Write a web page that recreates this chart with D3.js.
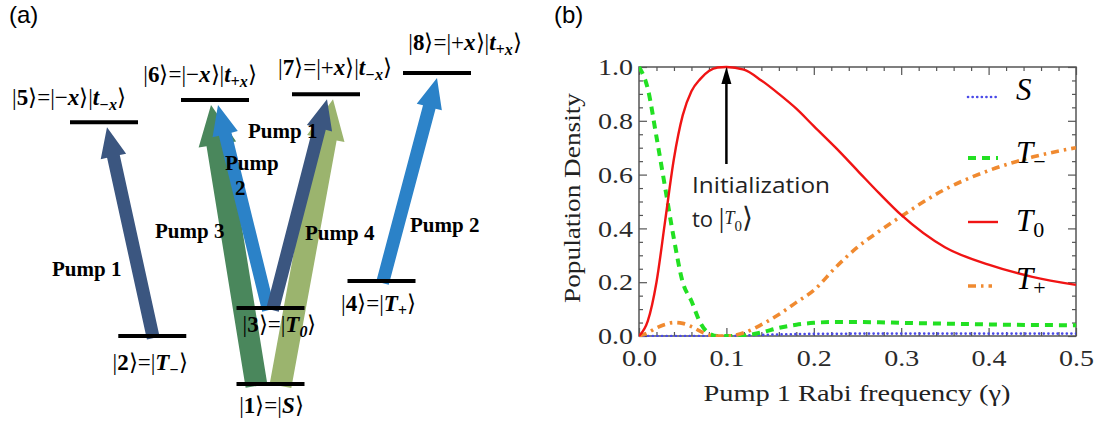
<!DOCTYPE html>
<html lang="en">
<head>
<meta charset="UTF-8" />
<title>Pump scheme and population density</title>
<script src="https://d3js.org/d3.v7.min.js"></script>
<style>
  body { margin: 0; background: #fff; }
  .serif { font-family: "Liberation Serif", "Times New Roman", serif; }
  .sans { font-family: "Open Sans", "Liberation Sans", sans-serif; }
  .level { stroke: #000; stroke-width: 4; }
  .frame { fill: none; stroke: #555; stroke-width: 1.5; }
  .tick line { stroke: #555; stroke-width: 1.2; }
  .tick text { fill: #2a2a2a; }
</style>
</head>
<body>
<div id="chart"></div>
<script>
// ---- panel (a): energy levels ----
// slot = horizontal column, energy = relative height
const levelIds    = ["1", "2", "3", "4", "5", "6", "7", "8"];
const levelSlots  = [3, 0.87, 3, 5, 0, 2, 4, 6];
const levelEnergy = [0, 0.154, 0.244, 0.331, 0.842, 0.913, 0.932, 1.0];

// right-hand side of each ket label: [text, kind]
const ketRhs = {
  "1": [["|", ""], ["S", "bi"], ["⟩", ""]],
  "2": [["|", ""], ["T", "bi"], ["−", "sub"], ["⟩", ""]],
  "3": [["|", ""], ["T", "bi"], ["0", "sub"], ["⟩", ""]],
  "4": [["|", ""], ["T", "bi"], ["+", "sub"], ["⟩", ""]],
  "5": [["|−", ""], ["x", "bi"], ["⟩|", ""], ["t", "bi"], ["−x", "sub"], ["⟩", ""]],
  "6": [["|−", ""], ["x", "bi"], ["⟩|", ""], ["t", "bi"], ["+x", "sub"], ["⟩", ""]],
  "7": [["|+", ""], ["x", "bi"], ["⟩|", ""], ["t", "bi"], ["−x", "sub"], ["⟩", ""]],
  "8": [["|+", ""], ["x", "bi"], ["⟩|", ""], ["t", "bi"], ["+x", "sub"], ["⟩", ""]]
};

// transitions: which pump drives which pair of levels
const pumpFrom = ["2", "1", "3", "3", "1", "4"];
const pumpTo   = ["5", "6", "6", "7", "7", "8"];
const pumpNum  = [1, 3, 2, 1, 4, 2];

// ---- panel (b): population density vs pump 1 Rabi frequency ----
const rabi  = [0, 0.01, 0.02, 0.03, 0.04, 0.05, 0.06, 0.07, 0.08, 0.09, 0.1,
               0.12, 0.14, 0.16, 0.18, 0.2, 0.225, 0.25, 0.275, 0.3, 0.35, 0.4, 0.45, 0.5];
const popS  = [0, 0, 0, 0, 0, 0, 0, 0, 0, 0, 0,
               0.002, 0.004, 0.006, 0.007, 0.008, 0.008, 0.009, 0.009, 0.009, 0.009, 0.009, 0.009, 0.009];
const popTm = [1.0, 0.92, 0.74, 0.55, 0.36, 0.2, 0.13, 0.05, 0.01, 0, 0,
               0.002, 0.013, 0.03, 0.042, 0.049, 0.052, 0.052, 0.051, 0.049, 0.046, 0.043, 0.041, 0.04];
const popT0 = [0, 0.055, 0.2, 0.43, 0.66, 0.82, 0.91, 0.955, 0.985, 0.998, 1.0,
               0.99, 0.95, 0.9, 0.845, 0.78, 0.7, 0.615, 0.53, 0.45, 0.33, 0.265, 0.22, 0.19];
const popTp = [0, 0.012, 0.03, 0.043, 0.05, 0.047, 0.035, 0.018, 0.004, 0, 0,
               0.012, 0.042, 0.08, 0.125, 0.17, 0.255, 0.33, 0.39, 0.445, 0.545, 0.615, 0.665, 0.70];

const xMajor = [0, 0.1, 0.2, 0.3, 0.4, 0.5];
const yMajor = [0, 0.2, 0.4, 0.6, 0.8, 1.0];

const width = 1102, height = 423;
const svg = d3.select("#chart").append("svg")
  .attr("width", width).attr("height", height);

// ===================== panel (a) =====================
const xA = d3.scaleLinear().domain([0, 6]).range([104, 437]);
const yA = d3.scaleLinear().domain([0, 1]).range([384, 73]);
const lvl = {};
levelIds.forEach((id, i) => { lvl[id] = { x: xA(levelSlots[i]), y: yA(levelEnergy[i]) }; });

const pumpColor = { 1: "#3b5680", 2: "#2b82c8", 3: "#4a875c", 4: "#9bb46e" };
const thick = { 1: 13, 2: 13, 3: 22, 4: 22 };
// where the arrow leaves / hits the level, relative to level centre
const arrowOff = [[1, 3], [-14, -4], [-2, 3], [2, 1], [10, 7], [1, 0]];
const drawOrder = [0, 1, 4, 2, 3, 5];

const gA = svg.append("g");
const line = d3.line();

drawOrder.forEach(i => {
  const a = lvl[pumpFrom[i]], b = lvl[pumpTo[i]];
  const p = pumpNum[i];
  const x0 = a.x + arrowOff[i][0], y0 = a.y + 2;
  const x1 = b.x + arrowOff[i][1], y1 = b.y + 5;
  const len = Math.hypot(x1 - x0, y1 - y0);
  const ux = (x1 - x0) / len, uy = (y1 - y0) / len;
  const nx = -uy, ny = ux;
  const w = thick[p] / 2;
  const hw = (p >= 3 ? 38 : 26) / 2;
  const hl = p >= 3 ? 40 : 30;
  const nk = len - hl;
  const pts = [
    [x0 + nx * w, y0 + ny * w],
    [x0 + ux * nk + nx * w, y0 + uy * nk + ny * w],
    [x0 + ux * nk + nx * hw, y0 + uy * nk + ny * hw],
    [x1, y1],
    [x0 + ux * nk - nx * hw, y0 + uy * nk - ny * hw],
    [x0 + ux * nk - nx * w, y0 + uy * nk - ny * w],
    [x0 - nx * w, y0 - ny * w]
  ];
  gA.append("path")
    .attr("d", line(pts) + "Z")
    .attr("fill", pumpColor[p]);
});

// level lines on top
gA.selectAll("line.level")
  .data(levelIds)
  .enter().append("line")
  .attr("class", "level")
  .attr("x1", d => lvl[d].x - 34)
  .attr("x2", d => lvl[d].x + 34)
  .attr("y1", d => lvl[d].y)
  .attr("y2", d => lvl[d].y)
  .attr("stroke", d => d === "3" ? "#1f3a24" : "#000");

// ket labels
const labelOff = {
  "1": [1, 29], "2": [-2, 34], "3": [9, 24], "4": [-3, 30],
  "5": [-35, -17], "6": [-15, -18], "7": [9, -19], "8": [28, -23]
};
levelIds.forEach(id => {
  const t = gA.append("text")
    .attr("class", "serif")
    .attr("x", lvl[id].x + labelOff[id][0])
    .attr("y", lvl[id].y + labelOff[id][1])
    .attr("text-anchor", "middle")
    .attr("font-size", 23);
  t.append("tspan").text("|");
  t.append("tspan").attr("font-weight", "bold").text(id);
  t.append("tspan").text("⟩=");
  let shifted = false;
  ketRhs[id].forEach(([s, kind]) => {
    const sp = t.append("tspan").text(s);
    if (kind === "bi") sp.attr("font-weight", "bold").attr("font-style", "italic");
    if (kind === "sub") {
      sp.attr("font-weight", "bold").attr("font-style", "italic")
        .attr("font-size", 16).attr("dy", 5);
      shifted = true;
    } else if (shifted) {
      sp.attr("dy", -5);
      shifted = false;
    }
  });
});

// pump labels
const pumpLabels = [
  ["Pump 1", 52, 276], ["Pump 3", 155, 238], ["Pump 1", 248, 138],
  ["Pump", 225, 170], ["2", 235, 195], ["Pump 4", 305, 240], ["Pump 2", 410, 232]
];
gA.selectAll("text.pump")
  .data(pumpLabels)
  .enter().append("text")
  .attr("class", "serif pump")
  .attr("x", d => d[1]).attr("y", d => d[2])
  .attr("font-size", 21).attr("font-weight", "bold")
  .text(d => d[0]);

svg.append("text").attr("font-family", "Liberation Sans, sans-serif")
  .attr("x", 9).attr("y", 23).attr("font-size", 24).text("(a)");
svg.append("text").attr("font-family", "Liberation Sans, sans-serif")
  .attr("x", 554).attr("y", 23).attr("font-size", 24).text("(b)");

// ===================== panel (b) =====================
const x = d3.scaleLinear().domain([0, 0.5]).range([639, 1076]);
const y = d3.scaleLinear().domain([0, 1]).range([336, 67]);
const gB = svg.append("g");

const xMinor = d3.range(0, 0.5001, 0.02).filter(v => Math.abs(v * 10 - Math.round(v * 10)) > 1e-6);
const yMinor = d3.range(0, 1.0001, 0.05).filter(v => Math.abs(v * 5 - Math.round(v * 5)) > 1e-6);

function tickAxis(axis, vals, size, fmt) {
  return axis.tickValues(vals).tickSizeInner(-size).tickSizeOuter(0).tickFormat(fmt || "");
}

gB.append("g").attr("transform", "translate(0,336)")
  .call(tickAxis(d3.axisBottom(x), xMajor, 8, d3.format(".1f")).tickPadding(13));
gB.append("g").attr("transform", "translate(0,336)").call(tickAxis(d3.axisBottom(x), xMinor, 4));
gB.append("g").attr("transform", "translate(0,67)").call(tickAxis(d3.axisTop(x), xMajor, 8));
gB.append("g").attr("transform", "translate(0,67)").call(tickAxis(d3.axisTop(x), xMinor, 4));
gB.append("g").attr("transform", "translate(639,0)")
  .call(tickAxis(d3.axisLeft(y), yMajor, 8, d3.format(".1f")).tickPadding(6));
gB.append("g").attr("transform", "translate(639,0)").call(tickAxis(d3.axisLeft(y), yMinor, 4));
gB.append("g").attr("transform", "translate(1076,0)").call(tickAxis(d3.axisRight(y), yMajor, 8));
gB.append("g").attr("transform", "translate(1076,0)").call(tickAxis(d3.axisRight(y), yMinor, 4));
gB.selectAll(".domain").remove();
gB.selectAll(".tick text")
  .attr("class", "serif")
  .attr("font-size", 24)
  .attr("textLength", 35)
  .attr("lengthAdjust", "spacingAndGlyphs");

gB.append("rect").attr("class", "frame")
  .attr("x", 639).attr("y", 67).attr("width", 1076 - 639).attr("height", 336 - 67);

svg.append("defs").append("clipPath").attr("id", "plotClip")
  .append("rect").attr("x", 639).attr("y", 64).attr("width", 1076 - 639).attr("height", 336 - 64 + 1);

const series = [
  { vals: popS,  color: "#4a4ae8", w: 2.6, dash: "0.1,4.5", cap: "round" },
  { vals: popTm, color: "#22e022", w: 4,   dash: "8,6",     cap: "butt" },
  { vals: popTp, color: "#f08a30", w: 3.6, dash: "8,5,2.5,5", cap: "butt" },
  { vals: popT0, color: "#f01414", w: 2.4, dash: null,      cap: "butt" }
];
const curve = d3.line()
  .x((d, i) => x(rabi[i]))
  .y(d => y(d))
  .curve(d3.curveMonotoneX);

gB.append("g").attr("clip-path", "url(#plotClip)")
  .selectAll("path")
  .data(series)
  .enter().append("path")
  .attr("d", d => curve(d.vals))
  .attr("fill", "none")
  .attr("stroke", d => d.color)
  .attr("stroke-width", d => d.w)
  .attr("stroke-dasharray", d => d.dash)
  .attr("stroke-linecap", d => d.cap);

// legend
const legendNames = [["S", ""], ["T", "−"], ["T", "0"], ["T", "+"]];
const legendY = [97, 158, 222, 286];
const legendBase = [100, 163, 231, 289];
const legendOrder = [0, 1, 3, 2];
legendNames.forEach((nm, i) => {
  const s = series[legendOrder[i]];
  gB.append("line")
    .attr("x1", 968).attr("x2", i === 3 ? 992 : 998)
    .attr("y1", legendY[i]).attr("y2", legendY[i])
    .attr("stroke", s.color).attr("stroke-width", s.w)
    .attr("stroke-dasharray", s.dash).attr("stroke-linecap", s.cap);
  const t = gB.append("text").attr("class", "serif")
    .attr("x", 1016).attr("y", legendBase[i]).attr("font-size", 31);
  t.append("tspan").attr("font-style", "italic").text(nm[0]);
  if (nm[1]) t.append("tspan").attr("font-size", 22).attr("dy", 6).text(nm[1]);
});

// axis titles
gB.append("text").attr("class", "serif")
  .attr("transform", "translate(580,198) rotate(-90)")
  .attr("text-anchor", "middle").attr("font-size", 23).attr("fill", "#222")
  .attr("textLength", 210).attr("lengthAdjust", "spacingAndGlyphs")
  .text("Population Density");
gB.append("text").attr("class", "serif")
  .attr("x", 857).attr("y", 401)
  .attr("text-anchor", "middle").attr("font-size", 23).attr("fill", "#222")
  .attr("textLength", 307).attr("lengthAdjust", "spacingAndGlyphs")
  .text("Pump 1 Rabi frequency (γ)");

// annotation
const peakX = x(rabi[popT0.indexOf(d3.max(popT0))]);
gB.append("line")
  .attr("x1", peakX).attr("x2", peakX)
  .attr("y1", 164).attr("y2", 82)
  .attr("stroke", "#000").attr("stroke-width", 2.5);
gB.append("path")
  .attr("d", line([[peakX - 5, 84], [peakX, y(1)], [peakX + 5, 84]]) + "Z")
  .attr("fill", "#000");
gB.append("text").attr("class", "sans")
  .attr("x", 692).attr("y", 193).attr("font-size", 22).attr("fill", "#222")
  .attr("textLength", 138).attr("lengthAdjust", "spacingAndGlyphs")
  .text("Initialization");
const ann = gB.append("text").attr("class", "sans")
  .attr("x", 692).attr("y", 227).attr("font-size", 22).attr("fill", "#222");
ann.append("tspan").text("to ");
ann.append("tspan").attr("class", "serif").attr("font-size", 28).text("|");
ann.append("tspan").attr("class", "serif").attr("font-style", "italic").attr("font-size", 18).attr("dy", -3).text("T");
ann.append("tspan").attr("class", "serif").attr("font-size", 15).attr("dy", 7).text("0");
ann.append("tspan").attr("class", "serif").attr("font-size", 28).attr("dy", -4).text("⟩");
</script>
</body>
</html>
